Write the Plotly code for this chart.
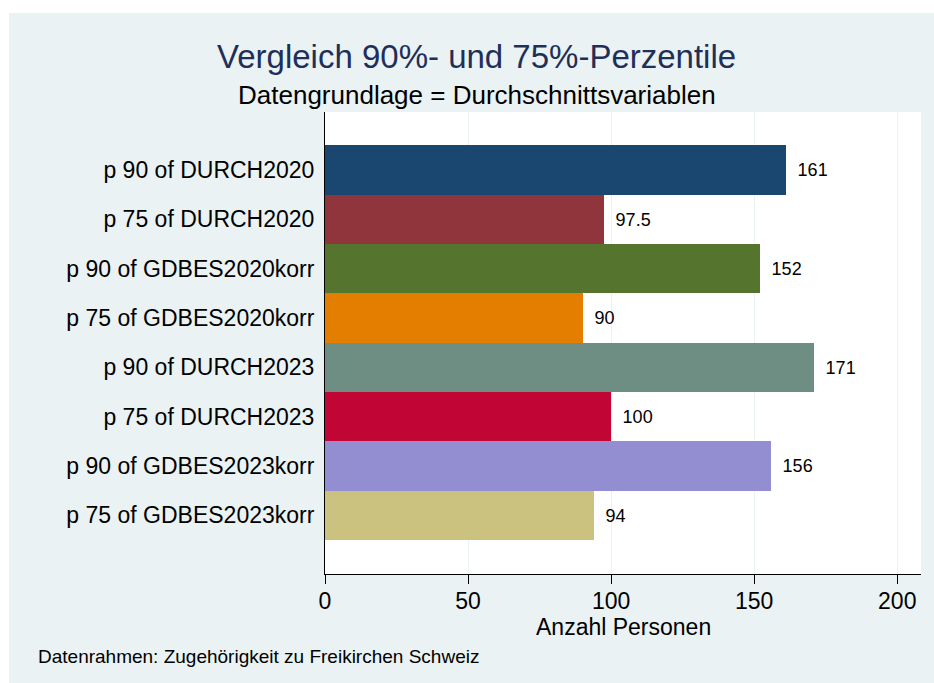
import plotly.graph_objects as go

# Kategorien (von oben nach unten) und Werte
categories = [
    "p 90 of DURCH2020",
    "p 75 of DURCH2020",
    "p 90 of GDBES2020korr",
    "p 75 of GDBES2020korr",
    "p 90 of DURCH2023",
    "p 75 of DURCH2023",
    "p 90 of GDBES2023korr",
    "p 75 of GDBES2023korr",
]
values = [161, 97.5, 152, 90, 171, 100, 156, 94]
bar_colors = ["#1a476f", "#90353b", "#55752f", "#e37e00",
              "#6e8e84", "#c10534", "#938dd2", "#cac27e"]
x_ticks = [0, 50, 100, 150, 200]

title_text = "Vergleich 90%- und 75%-Perzentile"
subtitle_text = "Datengrundlage = Durchschnittsvariablen"
note_text = "Datenrahmen: Zugehörigkeit zu Freikirchen Schweiz"

panel = "#eaf2f3"
font_family = "Arial, Liberation Sans, sans-serif"

fig = go.Figure()
fig.add_trace(go.Bar(
    y=list(range(len(categories))),
    x=values,
    orientation="h",
    marker=dict(color=bar_colors, line=dict(width=0)),
    text=[str(v) for v in values],
    texttemplate="\u00a0\u2009%{text}",
    textposition="outside",
    textfont=dict(size=18, color="#000000", family=font_family),
    constraintext="none",
    cliponaxis=False,
    hoverinfo="skip",
))

fig.update_layout(
    width=934,
    height=683,
    margin=dict(l=325, r=13, t=112, b=109),
    paper_bgcolor=panel,
    plot_bgcolor="#ffffff",
    bargap=0,
    showlegend=False,
    font=dict(family=font_family, color="#000000"),
)

fig.update_xaxes(
    range=[0, 208.3],
    tickvals=x_ticks,
    ticks="outside",
    ticklen=9,
    tickcolor="#000000",
    tickfont=dict(size=23),
    ticklabelstandoff=-3,
    showgrid=True,
    gridcolor=panel,
    gridwidth=1,
    zeroline=False,
    showline=True,
    linecolor="#000000",
    linewidth=1,
)
fig.update_yaxes(
    range=[8.189, -1.175],
    tickvals=list(range(len(categories))),
    ticktext=categories,
    ticks="",
    ticklabelstandoff=5,
    tickfont=dict(size=23),
    showgrid=False,
    zeroline=False,
    showline=True,
    linecolor="#000000",
    linewidth=1,
)

# Titel, Untertitel, Achsentitel, Fussnote
fig.add_annotation(text=title_text, xref="paper", yref="paper", x=0.255, y=1.1212,
                   showarrow=False, xanchor="center", yanchor="middle",
                   font=dict(size=33, color="#1e2f5a"))
fig.add_annotation(text=subtitle_text, xref="paper", yref="paper", x=0.255, y=1.037,
                   showarrow=False, xanchor="center", yanchor="middle",
                   font=dict(size=26, color="#000000"))
fig.add_annotation(text="Anzahl Personen", xref="paper", yref="paper", x=0.5, y=-0.114,
                   showarrow=False, xanchor="center", yanchor="middle",
                   font=dict(size=23, color="#000000"))
fig.add_annotation(text=note_text, xref="paper", yref="paper", x=-0.485, y=-0.1775,
                   showarrow=False, xanchor="left", yanchor="middle",
                   font=dict(size=19, color="#000000"))

# weisser Rand oben und links
fig.add_shape(type="rect", xref="paper", yref="paper", x0=-0.6, x1=1.1, y0=1.2143, y1=1.3,
              fillcolor="#ffffff", line=dict(width=0), layer="below")
fig.add_shape(type="rect", xref="paper", yref="paper", x0=-0.6, x1=-0.5302, y0=-0.3, y1=1.3,
              fillcolor="#ffffff", line=dict(width=0), layer="below")

# Seitenrand des Browsers entfernen, damit die Grafik bei (0,0) beginnt
fig.write_html("out.html", config={"displayModeBar": False},
               post_script="document.body.style.margin='0';")
